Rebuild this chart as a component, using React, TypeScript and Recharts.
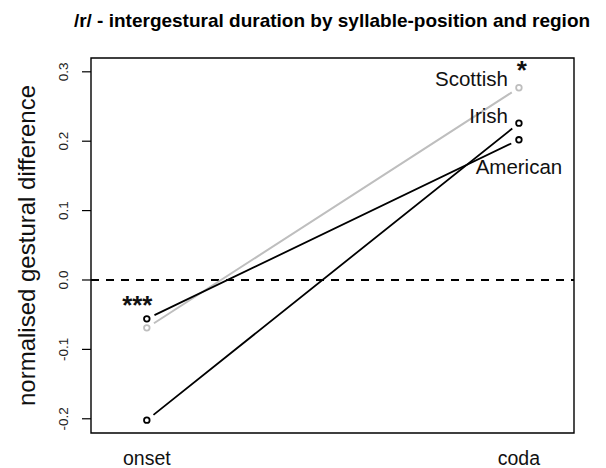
import React from 'react';
import {
  LineChart, Line, XAxis, YAxis, ReferenceLine, ReferenceArea, LabelList
} from 'recharts';

// syllable positions on the x axis
const POSITIONS = ['onset', 'coda'];
// mean normalised gestural difference per region, onset then coda
const AMERICAN = [-0.056, 0.202];
const IRISH = [-0.202, 0.226];
const SCOTTISH = [-0.069, 0.277];
const Y_TICKS = [-0.2, -0.1, 0.0, 0.1, 0.2, 0.3];
// significance marks per position
const SIG = ['***', '*'];

const TITLE = '/r/ - intergestural duration by syllable-position and region';
const Y_LABEL = 'normalised gestural difference';

const W = 598;
const H = 460;
const MARGIN = { top: 50, right: 32, bottom: 0, left: 0 };
const Y_AXIS_W = 83;
const X_AXIS_H = 35;
const X_DOMAIN: [number, number] = [0.85, 2.148];
const Y_DOMAIN: [number, number] = [-0.2205, 0.3199];
const GAP = 8.5;

const PLOT_W = W - MARGIN.left - MARGIN.right - Y_AXIS_W;
const PLOT_H = H - MARGIN.top - MARGIN.bottom - X_AXIS_H;

const rows = POSITIONS.map((p, i) => ({
  x: i + 1,
  American: AMERICAN[i],
  Irish: IRISH[i],
  Scottish: SCOTTISH[i],
}));

// line drawn with a gap at each end, like R's type = "b"
function gapDash(vals: number[]) {
  const px = PLOT_W / (X_DOMAIN[1] - X_DOMAIN[0]);
  const py = PLOT_H / (Y_DOMAIN[1] - Y_DOMAIN[0]);
  const len = Math.hypot(px, (vals[1] - vals[0]) * py);
  return `0 ${GAP} ${len - 2 * GAP} ${GAP + 20}`;
}

const FONT = '"Liberation Sans", Arial, sans-serif';

const YTick = ({ x, y, payload }: any) => (
  <text
    transform={`translate(${x - 17},${y}) rotate(-90)`}
    textAnchor="middle"
    dominantBaseline="central"
    fontSize={13.5}
    fill="#222"
    fontFamily={FONT}
  >
    {Number(payload.value).toFixed(1)}
  </text>
);

const XTick = ({ x, y, payload }: any) => (
  <text x={x} y={y + 32} textAnchor="middle" fontSize={19.5} fill="#111" fontFamily={FONT}>
    {POSITIONS[payload.value - 1]}
  </text>
);

// region name beside the coda point, significance mark where given
const makeLabel = (name: string, opts: { dx: number; dy: number; anchor: string; sigAt?: number; sdx?: number; sdy?: number }) =>
  (props: any) => {
    const { x, y, index } = props;
    return (
      <g>
        {index === 1 && (
          <text x={x + opts.dx} y={y + opts.dy} textAnchor={opts.anchor} dominantBaseline="central" fontSize={20.5} fill="#111" fontFamily={FONT}>
            {name}
          </text>
        )}
        {opts.sigAt === index && (
          <text x={x + (opts.sdx || 0)} y={y + (opts.sdy || 0)} textAnchor="middle" dominantBaseline="central" fontSize={26} fontWeight="bold" fill="#111" fontFamily={FONT}>
            {SIG[index]}
          </text>
        )}
      </g>
    );
  };

export default function App() {
  return (
    <div style={{ position: 'relative', width: W, height: H, fontFamily: FONT }}>
      <div
        style={{
          position: 'absolute', left: 44, width: 560, top: 3, textAlign: 'center',
          fontSize: 19, fontWeight: 'bold', whiteSpace: 'nowrap', lineHeight: '20px', color: '#000'
        }}
      >
        {TITLE}
      </div>
      <LineChart width={W} height={H} data={rows} margin={MARGIN}>
        <XAxis
          dataKey="x" type="number" domain={X_DOMAIN} ticks={[1, 2]} allowDataOverflow
          axisLine={false} tickLine={false} tickSize={0} tickMargin={0} height={X_AXIS_H} tick={<XTick />}
        />
        <YAxis
          type="number" domain={Y_DOMAIN} ticks={Y_TICKS} allowDataOverflow width={Y_AXIS_W}
          axisLine={false} tickLine={{ stroke: '#000', strokeWidth: 1.2 }} tickSize={9} tickMargin={2}
          tick={<YTick />}
          label={{
            value: Y_LABEL, angle: -90, position: 'insideLeft', offset: 18,
            style: { textAnchor: 'middle', fontSize: 24, fill: '#111', fontFamily: FONT }
          }}
        />
        <ReferenceArea
          x1={X_DOMAIN[0]} x2={X_DOMAIN[1]} y1={Y_DOMAIN[0]} y2={Y_DOMAIN[1]}
          fill="none" fillOpacity={0} stroke="#000" strokeWidth={1.4} ifOverflow="visible"
        />
        <ReferenceLine y={0} stroke="#000" strokeWidth={2} strokeDasharray="8 7" />
        <Line
          dataKey="Scottish" type="linear" stroke="#bebebe" strokeWidth={2}
          strokeDasharray={gapDash(SCOTTISH)} isAnimationActive={false}
          dot={{ r: 2.8, fill: '#fff', stroke: '#bebebe', strokeWidth: 1.8, strokeDasharray: '' }}
          activeDot={false}
        >
          <LabelList content={makeLabel('Scottish', { dx: -11, dy: -9, anchor: 'end', sigAt: 1, sdx: 3, sdy: -18 })} />
        </Line>
        <Line
          dataKey="American" type="linear" stroke="#000" strokeWidth={1.8}
          strokeDasharray={gapDash(AMERICAN)} isAnimationActive={false}
          dot={{ r: 2.8, fill: '#fff', stroke: '#000', strokeWidth: 1.8, strokeDasharray: '' }}
          activeDot={false}
        >
          <LabelList content={makeLabel('American', { dx: 0, dy: 27, anchor: 'middle', sigAt: 0, sdx: -9.5, sdy: -14 })} />
        </Line>
        <Line
          dataKey="Irish" type="linear" stroke="#000" strokeWidth={1.8}
          strokeDasharray={gapDash(IRISH)} isAnimationActive={false}
          dot={{ r: 2.8, fill: '#fff', stroke: '#000', strokeWidth: 1.8, strokeDasharray: '' }}
          activeDot={false}
        >
          <LabelList content={makeLabel('Irish', { dx: -11, dy: -8, anchor: 'end' })} />
        </Line>
      </LineChart>
    </div>
  );
}
